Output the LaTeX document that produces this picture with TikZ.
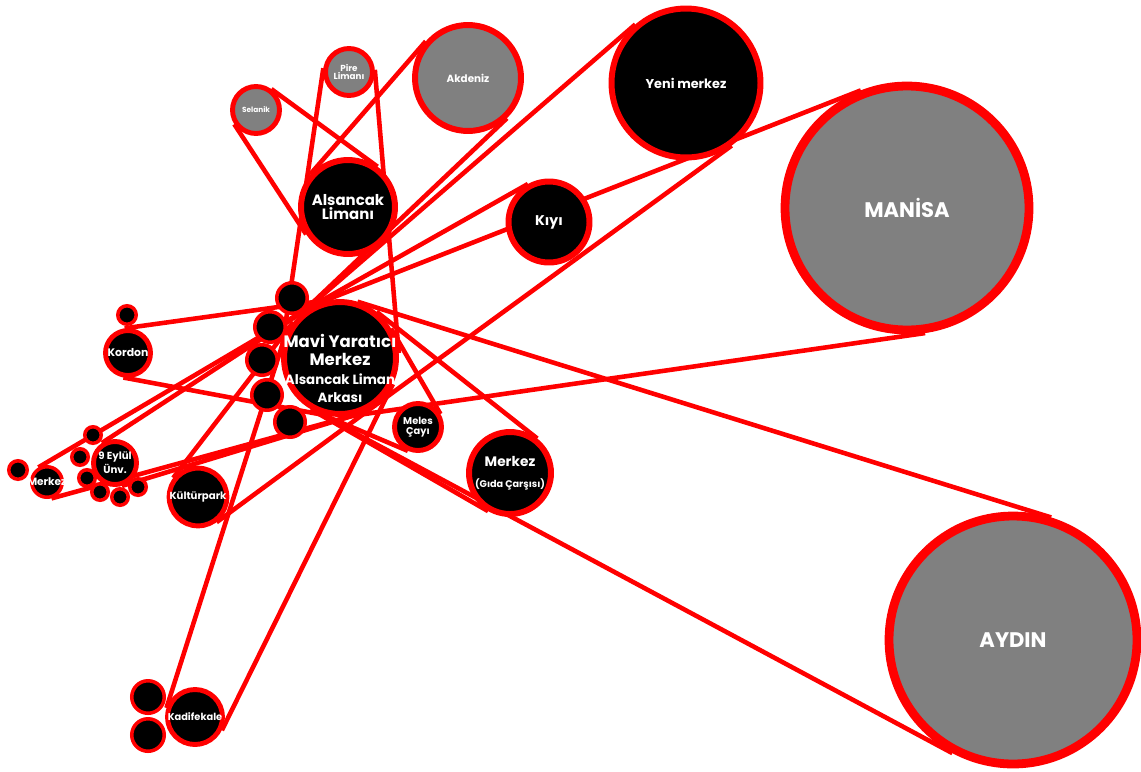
\documentclass[tikz,border=0pt]{standalone}
\usepackage{fontspec}
\setsansfont{Poppins}
\usepackage{tikz}
\usetikzlibrary{calc}
\pgfdeclarelayer{back}
\pgfsetlayers{back,main}
\definecolor{sea}{RGB}{128,128,128}

\tikzset{
	spot/.style={circle, draw=red, fill=black, text=white, inner sep=0pt, align=center, line width=2.8pt},
	bigspot/.style={spot, line width=5pt},
	midspot/.style={spot, line width=3.4pt},
	grey/.style={fill=sea},
	dot/.style={circle, draw=red, fill=black, inner sep=0pt, line width=2pt},
	belt/.style={draw=red, line width=2.6pt},
}
\newcommand{\txt}[1]{\sffamily\bfseries\fontsize{#1}{#1}\selectfont}

% two outer tangents between the circles #1 and #2
\newcommand{\belt}[2]{%
	\path[belt] let \p1=(#1.center), \p2=(#2.center), \p3=(#1.east), \p4=(#2.east),
		\n1={atan2(\y2-\y1,\x2-\x1)}, \n2={veclen(\x2-\x1,\y2-\y1)},
		\n3={\x3-\x1}, \n4={\x4-\x2}, \n5={acos((\n3-\n4)/\n2)}
		in ($(\p1)+(\n1+\n5:\n3)$) -- ($(\p2)+(\n1+\n5:\n4)$)
		($(\p1)+(\n1-\n5:\n3)$) -- ($(\p2)+(\n1-\n5:\n4)$);}

\begin{document}
\begin{tikzpicture}[x=0.02cm, y=-0.02cm]
	\useasboundingbox (0,0) rectangle (1141,771);

	% small circles
	\node[dot, minimum size=0.61cm] (md1) at (292,298) {};
	\node[dot, minimum size=0.61cm] (md2) at (270,327) {};
	\node[dot, minimum size=0.61cm] (md3) at (262,360) {};
	\node[dot, minimum size=0.61cm] (md4) at (267,395) {};
	\node[dot, minimum size=0.61cm] (md5) at (290,422) {};
	\node[dot, minimum size=0.37cm] (kd1) at (127,315) {};
	\node[dot, minimum size=0.33cm] (ed1) at (93,435) {};
	\node[dot, minimum size=0.33cm] (ed2) at (80,457) {};
	\node[dot, minimum size=0.33cm] (ed3) at (87,478) {};
	\node[dot, minimum size=0.33cm] (ed4) at (100,492) {};
	\node[dot, minimum size=0.33cm] (ed5) at (120,497) {};
	\node[dot, minimum size=0.33cm] (ed6) at (138,487) {};
	\node[dot, minimum size=0.37cm] (ld1) at (18,470) {};
	\node[dot, minimum size=0.65cm] (fd1) at (148,697) {};
	\node[dot, minimum size=0.65cm] (fd2) at (148,735) {};

	% places
	\node[bigspot, grey, minimum size=4.88cm, font=\txt{12}] (manisa) at (907,208) {MANİSA};
	\node[bigspot, grey, minimum size=4.96cm, font=\txt{12}] (aydin) at (1013,640) {AYDIN};
	\node[midspot, minimum size=2.98cm, font=\txt{7.3}] (yeni) at (686,83) {Yeni merkez};
	\node[midspot, grey, minimum size=2.12cm, font=\txt{5.9}] (akdeniz) at (468,78) {Akdeniz};
	\node[spot, grey, minimum size=0.94cm, font=\txt{5}] (pire) at (349,72) {Pire\\Limanı};
	\node[spot, grey, minimum size=0.94cm, font=\txt{4.2}] (selanik) at (256,110) {Selanik};
	\node[midspot, minimum size=1.88cm, font=\txt{8.5}] (alsancak) at (348,207) {Alsancak\\Limanı};
	\node[midspot, minimum size=1.62cm, font=\txt{8}] (kiyi) at (549,222) {Kıyı};
	\node[midspot, minimum size=2.24cm, label={[yshift=-0.21cm, text=white, align=center, font=\txt{10.4}]center:
		{\txt{9.4}Mavi Yaratıcı}\\{\txt{9.4}Merkez}\\{\txt{7.6}Alsancak Liman}\\{\txt{7.6}Arkası}}] (mavi) at (340,358) {};
	\node[spot, minimum size=0.94cm, font=\txt{5.6}] (meles) at (418,427) {Meles\\Çayı};
	\node[midspot, minimum size=1.64cm] (gida) at (510,473) {{\txt{7.8}Merkez}\\{\txt{5.5}(Gıda Çarşısı)}};
	\node[spot, minimum size=0.9cm, font=\txt{6.2}] (kordon) at (128,353) {Kordon};
	\node[spot, minimum size=0.86cm, font=\txt{5.8}] (eylul) at (115,463) {9 Eylül\\Ünv.};
	\node[dot, minimum size=0.61cm, label={[text=white, font=\txt{6}]center:Merkez}] (merkezl) at (47,482) {};
	\node[spot, minimum size=1.14cm, font=\txt{5.8}] (kultur) at (198,497) {Kültürpark};
	\node[spot, minimum size=1.1cm, font=\txt{5.6}] (kadife) at (195,717) {Kadifekale};

	\begin{pgfonlayer}{back}
	\belt{selanik}{alsancak}
	\path[belt] (akdeniz.139) -- (alsancak.139);
	\path[belt] (akdeniz.-46.6) -- (mavi.133.4);
	\belt{pire}{mavi}
	\belt{yeni}{mavi}
	\belt{manisa}{mavi}
	\path[belt] (kiyi.119.4) -- (mavi.119.4);
	\belt{aydin}{mavi}
	\belt{meles}{mavi}
	\belt{gida}{mavi}
	\belt{kadife}{mavi}
	\belt{kultur}{mavi}
	\belt{eylul}{mavi}
	\belt{merkezl}{mavi}
	\belt{kordon}{mavi}
	\end{pgfonlayer}
\end{tikzpicture}
\end{document}
